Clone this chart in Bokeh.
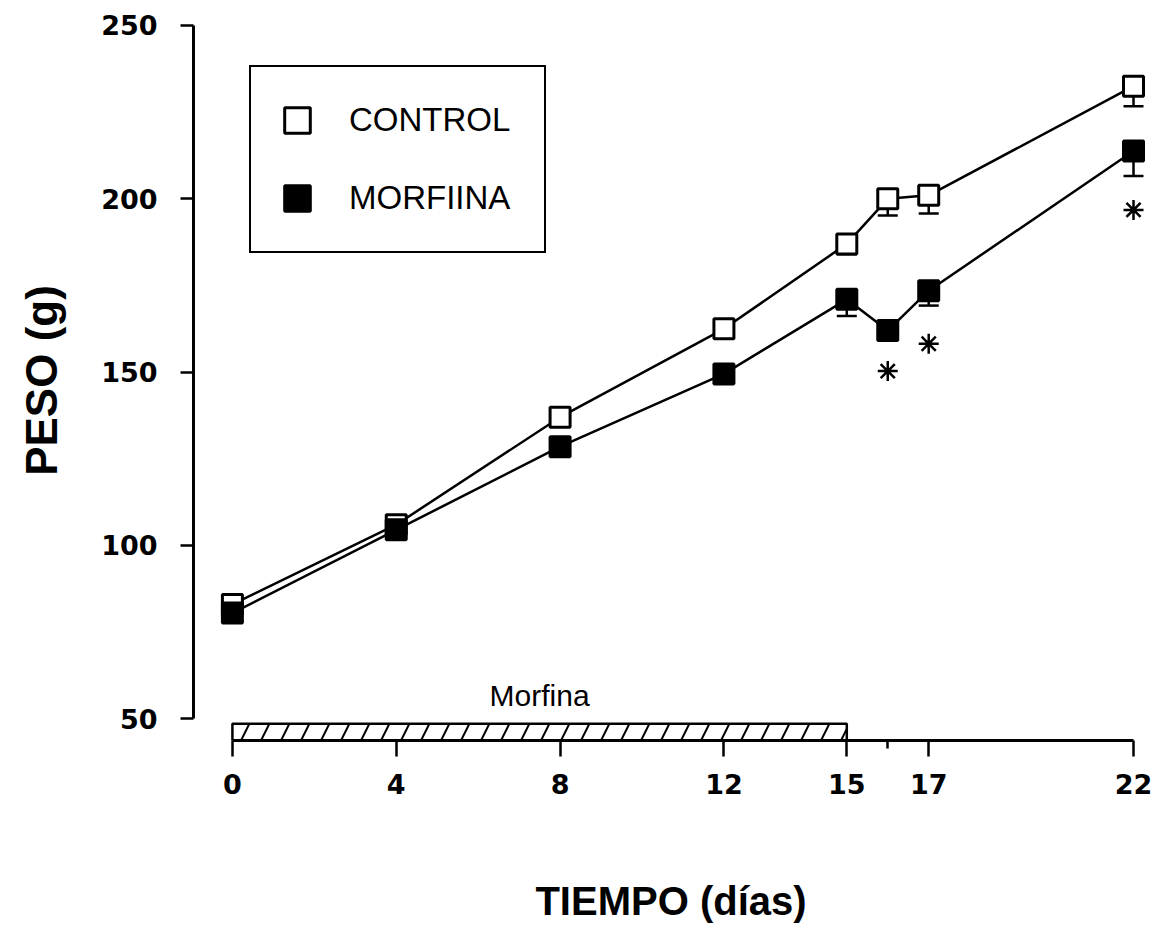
from bokeh.plotting import figure
from bokeh.models import (ColumnDataSource, Whisker, TeeHead, FixedTicker, Range1d, Legend, LegendItem)
from bokeh.core.properties import value
from bokeh.embed import file_html
from bokeh.resources import INLINE

# ---- data ----
days = [0, 4, 8, 12, 15, 16, 17, 22]
control = [83, 106, 137, 162.5, 187, 200, 201, 232.5]
control_se = [1.5, 1.5, 2, 2.5, 3, 4.8, 5.2, 5.8]
morfina = [80.5, 104.5, 128.5, 149.5, 171, 162, 173.5, 213.8]
morfina_se = [1.5, 1.5, 2, 2, 4.8, 2, 4.3, 7.2]
sig_days = [16, 17, 22]
sig_y = [150.3, 158.2, 196.8]
x_ticks = [0, 4, 8, 12, 15, 17, 22]
x_minor = [16]
y_ticks = [50, 100, 150, 200, 250]
treat_start, treat_end = 0, 15
treat_label = "Morfina"
labels = ["CONTROL", "MORFIINA"]

Y0, Y1 = 43.74, 251.44
X0, X1 = -0.95, 22.366
BAR_TOP = 48.6

p = figure(width=1156, height=934, output_backend="svg", toolbar_location=None,
           x_range=Range1d(X0, X1), y_range=Range1d(Y0, Y1),
           min_border_left=193, min_border_right=8, min_border_top=20, min_border_bottom=194)
p.xgrid.visible = False
p.ygrid.visible = False
p.outline_line_color = None
p.background_fill_color = "white"
p.border_fill_color = "white"

# axes
xa = p.xaxis[0]
xa.ticker = FixedTicker(ticks=x_ticks, minor_ticks=x_minor)
xa.bounds = (0, 22)
xa.axis_line_width = 3
xa.major_tick_line_width = 2.5
xa.minor_tick_line_width = 2.5
xa.major_tick_out = 16
xa.major_tick_in = 0
xa.minor_tick_out = 8
xa.minor_tick_in = 0
xa.major_label_text_font = "DejaVu Sans"
xa.major_label_text_font_style = "bold"
xa.major_label_text_font_size = "27px"
xa.major_label_text_color = "black"
xa.major_label_standoff = 17
xa.axis_label = "TIEMPO (días)"
xa.axis_label_text_font = "Liberation Sans"
xa.axis_label_text_font_style = "bold"
xa.axis_label_text_font_size = "40px"
xa.axis_label_text_color = "black"
xa.axis_label_standoff = 82

ya = p.yaxis[0]
ya.ticker = FixedTicker(ticks=y_ticks, minor_ticks=[])
ya.bounds = (50, 250)
ya.axis_line_width = 3
ya.major_tick_line_width = 2.5
ya.major_tick_out = 13
ya.major_tick_in = 0
ya.minor_tick_out = 0
ya.minor_tick_in = 0
ya.major_label_text_font = "DejaVu Sans"
ya.major_label_text_font_style = "bold"
ya.major_label_text_font_size = "27px"
ya.major_label_text_color = "black"
ya.major_label_standoff = 23
ya.axis_label = "PESO (g)"
ya.axis_label_text_font = "Liberation Sans"
ya.axis_label_text_font_style = "bold"
ya.axis_label_text_font_size = "44px"
ya.axis_label_text_color = "black"
ya.axis_label_standoff = 32

# treatment bar (hatched)
p.quad(left=[treat_start], right=[treat_end], bottom=[Y0], top=[BAR_TOP],
       fill_color="white", line_color="black", line_width=2.5,
       hatch_pattern="/", hatch_color="black", hatch_scale=40, hatch_weight=2)
p.text(x=[(treat_start + treat_end) / 2], y=[56.6], text=[treat_label],
       text_align="center", text_baseline="alphabetic",
       text_font=value("Liberation Sans"), text_font_size="30px", text_color="black")

# error bars (lower only)
src_c = ColumnDataSource(dict(x=days, y=control, lo=[v - s for v, s in zip(control, control_se)]))
src_m = ColumnDataSource(dict(x=days, y=morfina, lo=[v - s for v, s in zip(morfina, morfina_se)]))
for src in (src_c, src_m):
    w = Whisker(base="x", upper="y", lower="lo", source=src, line_width=2.5, line_color="black",
                upper_head=None, lower_head=TeeHead(size=20, line_width=2.5, line_color="black"),
                level="underlay")
    p.add_layout(w)

p.line("x", "y", source=src_c, line_color="black", line_width=2.5)
p.line("x", "y", source=src_m, line_color="black", line_width=2.5)
rc = p.scatter("x", "y", source=src_c, marker="square", size=20,
               fill_color="white", line_color="black", line_width=3)
rm = p.scatter("x", "y", source=src_m, marker="square", size=20,
               fill_color="black", line_color="black", line_width=3)

# significance
p.scatter(x=sig_days, y=sig_y, marker="asterisk", size=20, line_color="black", line_width=2.5)

legend = Legend(items=[LegendItem(label=labels[0], renderers=[rc]),
                       LegendItem(label=labels[1], renderers=[rm])],
                location=(56, 487), orientation="vertical",
                glyph_width=64, glyph_height=78, spacing=-12, padding=14,
                label_standoff=20, label_width=181,
                label_text_font="Liberation Sans", label_text_font_size="33px",
                label_text_color="black",
                border_line_color="black", border_line_width=2.5, border_line_alpha=1.0,
                background_fill_color="white", background_fill_alpha=1.0)
p.add_layout(legend, "center")

open("out.html", "w").write(file_html(p, INLINE))
